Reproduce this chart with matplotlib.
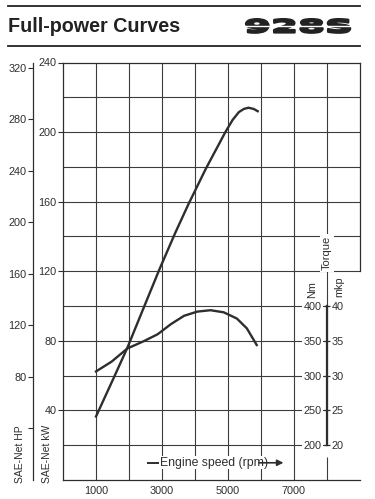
import matplotlib
matplotlib.use('Agg')
import matplotlib.pyplot as plt
from matplotlib import patheffects
from matplotlib.transforms import Affine2D
from matplotlib.lines import Line2D

# values
rpm_power = [1000, 1520, 1950, 2520, 2920, 3400, 3800, 4330, 4920, 5140, 5330, 5480, 5620, 5780, 5900]
power_kw = [36.5, 58, 76, 102.5, 121, 142, 158.5, 179, 200, 207, 211.5, 213.3, 214, 213.3, 212]
rpm_torque = [1000, 1470, 1950, 2470, 2870, 3270, 3670, 4070, 4470, 4870, 5270, 5570, 5870]
torque_nm = [306, 320, 339, 350, 359.5, 374, 386, 392, 394, 391, 382, 368, 344]

x_ticks = [1000, 3000, 5000, 7000]
kw_ticks = [40, 80, 120, 160, 200, 240]
hp_ticks = [40, 80, 120, 160, 200, 240, 280, 320]
hp_labels = ['', '80', '120', '160', '200', '240', '280', '320']
nm_ticks = [200, 250, 300, 350, 400]
mkp_ticks = [20, 25, 30, 35, 40]
rpm_grid = [1000, 2000, 3000, 4000, 5000, 6000, 7000, 8000]
kw_grid = [20, 40, 60, 80, 100, 120, 140, 160, 180, 200, 220]

plt.rcParams['font.family'] = ['Liberation Sans', 'DejaVu Sans']

ink = '#2e2e2e'
gridc = '#3c3c3c'
fs = 7.8


class Stretch(patheffects.AbstractPathEffect):
    # widen (and thicken) text horizontally around x0 (pixels), for the logo lettering
    def __init__(self, sx, x0, lw):
        super().__init__()
        self.sx = sx
        self.x0 = x0
        self.lw = lw

    def draw_path(self, renderer, gc, tpath, affine, rgbFace=None):
        t = affine + Affine2D().translate(-self.x0, 0).scale(self.sx, 1).translate(self.x0, 0)
        gc0 = renderer.new_gc()
        gc0.copy_properties(gc)
        gc0.set_linewidth(self.lw)
        gc0.set_foreground(rgbFace)
        renderer.draw_path(gc0, tpath, t, rgbFace)
        gc0.restore()


fig = plt.figure(figsize=(3.75, 4.99), dpi=100)

# header
fig.add_artist(Line2D([8/375, 360/375], [1-5.5/499]*2, lw=1.3, color='#222'))
fig.add_artist(Line2D([8/375, 360/375], [1-46/499]*2, lw=1.3, color='#222'))
fig.text(8/375, 1-32/499, 'Full-power Curves', fontsize=14.2, fontweight='bold',
         color='#222', va='baseline')
fig.text(244/375, 1-32.5/499, '928S', fontsize=13, fontweight='bold', family='DejaVu Sans',
         color='#222', va='baseline', path_effects=[Stretch(2.15, 244, 1.6)])
fig.add_artist(Line2D([241/375, 363/375], [1-25.5/499]*2, lw=1.0, color='white', zorder=5))

# main axes: engine speed vs kW
ax = fig.add_axes([63/375, 19/499, 297/375, 417.5/499])
ax.set_xlim(0, 9000)
ax.set_ylim(0, 240)

for r in rpm_grid:
    if r == 8000:
        ax.vlines(r, 0, 13, color=gridc, lw=0.8)
        ax.vlines(r, 20, 240, color=gridc, lw=0.8)
    else:
        ax.vlines(r, 0, 240, color=gridc, lw=0.8)
for k in kw_grid:
    ax.hlines(k, 0, 9000 if k >= 120 else 8000, color=gridc, lw=0.8)

for s in ax.spines.values():
    s.set_color(ink)
    s.set_linewidth(0.9)
ax.spines['right'].set_bounds(120, 240)

ax.set_xticks(x_ticks)
ax.set_yticks(kw_ticks)
ax.tick_params(axis='x', length=0, pad=4, labelsize=fs, colors=ink)
ax.tick_params(axis='y', length=3.5, width=0.8, pad=1, direction='out', labelsize=fs, colors=ink)

ax.plot(rpm_power, power_kw, color=ink, lw=1.7, zorder=4, solid_joinstyle='round')

ax.text(8000, 130.5, 'Torque', rotation=90, ha='center', va='center', fontsize=8, color=ink,
        bbox=dict(facecolor='white', edgecolor='none', pad=1.2), zorder=5)
ax.text(7536, 109.5, 'Nm', rotation=90, ha='center', va='center', fontsize=fs, color=ink)
ax.text(8364, 111, 'mkp', rotation=90, ha='center', va='center', fontsize=fs, color=ink)

ax.text(2940, 9.9, 'Engine speed (rpm)', ha='left', va='center', fontsize=8.8, color=ink,
        bbox=dict(facecolor='white', edgecolor='none', pad=0.3), zorder=5)
ax.hlines(9.9, 2545, 2900, color=ink, lw=1.4, zorder=6)
ax.annotate('', xy=(6680, 9.9), xytext=(5940, 9.9),
            arrowprops=dict(arrowstyle='-|>', lw=1.2, color=ink, mutation_scale=9,
                            shrinkA=0, shrinkB=0), zorder=6)

# HP scale on the far left
axhp = ax.twinx()
axhp.set_ylim(0, 240*1.35)
for n, s in axhp.spines.items():
    s.set_visible(n == 'left')
axhp.spines['left'].set_position(('axes', -30/297))
axhp.spines['left'].set_color(ink)
axhp.spines['left'].set_linewidth(0.9)
axhp.yaxis.set_ticks_position('left')
axhp.set_yticks(hp_ticks)
axhp.set_yticklabels(hp_labels)
axhp.tick_params(axis='y', length=3.5, width=0.8, pad=1, direction='out', labelsize=fs, colors=ink)

# torque scale on the 8000 rpm line
axt = ax.twinx()
axt.set_ylim(150, 750)
for n, s in axt.spines.items():
    s.set_visible(n == 'left')
axt.spines['left'].set_position(('data', 8000))
axt.spines['left'].set_bounds(200, 400)
axt.spines['left'].set_color(ink)
axt.spines['left'].set_linewidth(1.6)
axt.yaxis.set_ticks_position('left')
axt.set_yticks(nm_ticks)
axt.tick_params(axis='y', direction='inout', length=5, width=0.9, pad=1.5, labelsize=fs, colors=ink)
for t in axt.get_yticklabels():
    t.set_bbox(dict(facecolor='white', edgecolor='none', pad=0.8))
axt.plot(rpm_torque, torque_nm, color=ink, lw=1.7, zorder=4, solid_joinstyle='round')

axm = ax.twinx()
axm.set_ylim(15, 75)
for s in axm.spines.values():
    s.set_visible(False)
axm.spines['right'].set_position(('data', 8000))
axm.set_yticks(mkp_ticks)
axm.tick_params(axis='y', length=0, pad=3.5, labelsize=fs, colors=ink)

fig.text(20/375, 16/499, 'SAE-Net HP', rotation=90, ha='center', va='bottom', fontsize=7.5, color=ink)
fig.text(46.5/375, 16/499, 'SAE-Net kW', rotation=90, ha='center', va='bottom', fontsize=7.5, color=ink)

fig.savefig('out.png', dpi=100)
